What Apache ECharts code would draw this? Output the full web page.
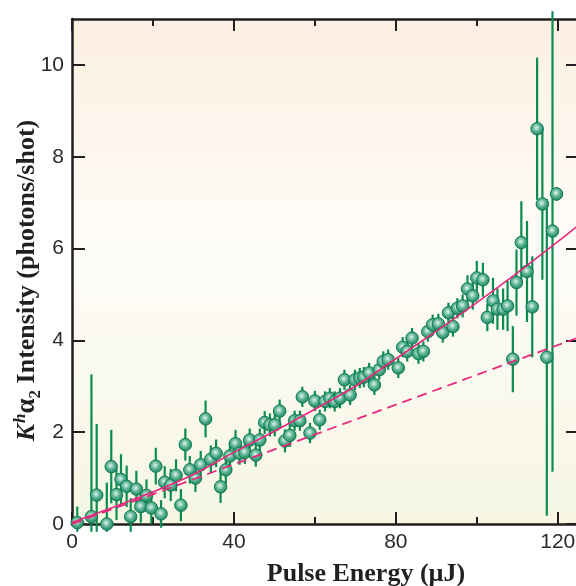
<!DOCTYPE html>
<html>
<head>
<meta charset="utf-8">
<script src="https://cdn.jsdelivr.net/npm/echarts@6/dist/echarts.min.js"></script>
<style>
html,body{margin:0;padding:0;background:#ffffff;}
#chart{width:576px;height:586px;}
</style>
</head>
<body>
<div id="chart"></div>
<script>
// Pulse energy (µJ)
var energy = [1.3,4.8,6.1,8.6,9.7,11.0,12.1,13.5,14.5,15.9,17.0,18.4,19.6,20.7,22.0,22.9,24.4,25.7,26.9,28.0,
  29.1,30.5,31.8,33.0,34.3,35.6,36.7,38.0,39.0,40.4,41.4,42.7,43.9,45.4,46.4,47.6,48.9,50.1,51.3,52.6,
  53.8,55.0,56.3,56.9,58.8,60.0,61.2,62.5,63.7,64.9,66.2,67.3,68.7,69.9,71.1,72.1,73.4,74.7,75.9,76.9,
  78.1,80.6,81.7,82.8,84.0,85.6,86.8,87.9,89.1,90.5,91.6,93.0,94.1,95.2,96.5,97.7,99.0,100.0,101.5,102.6,
  104.0,105.1,106.5,107.6,108.9,109.8,111.0,112.4,113.7,114.9,116.2,117.3,118.7,119.7];
// Intensity (photons/shot)
var intensity = [0.03,0.16,0.63,0.00,1.25,0.64,0.97,0.82,0.16,0.76,0.38,0.62,0.35,1.26,0.22,0.91,0.85,1.06,0.41,1.73,
  1.18,1.00,1.29,2.29,1.41,1.54,0.81,1.18,1.48,1.75,1.54,1.56,1.83,1.50,1.83,2.21,2.16,2.16,2.46,1.81,
  1.93,2.25,2.25,2.77,1.98,2.68,2.27,2.67,2.74,2.67,2.74,3.14,2.81,3.14,3.18,3.20,3.29,3.03,3.36,3.54,
  3.58,3.40,3.85,3.76,4.05,3.71,3.76,4.19,4.34,4.36,4.17,4.60,4.30,4.70,4.75,5.12,4.97,5.36,5.32,4.50,
  4.86,4.68,4.68,4.75,3.59,5.26,6.13,5.50,4.73,8.61,6.97,3.63,6.38,7.19];
// Error bar, lower half-length
var errLow = [0.35,3.10,1.55,0.90,0.80,0.55,0.55,0.45,0.40,0.40,0.35,0.35,0.35,0.40,0.30,0.35,0.35,0.35,0.35,0.35,
  0.30,0.30,0.30,0.40,0.30,0.30,0.35,0.30,0.30,0.30,0.25,0.25,0.25,0.25,0.25,0.25,0.25,0.25,0.25,0.25,
  0.25,0.22,0.22,0.22,0.22,0.22,0.22,0.22,0.22,0.22,0.22,0.22,0.22,0.22,0.22,0.22,0.22,0.22,0.22,0.22,
  0.22,0.22,0.22,0.22,0.22,0.22,0.22,0.22,0.22,0.22,0.22,0.22,0.22,0.22,0.25,0.30,0.30,0.37,0.37,0.30,
  0.50,0.45,0.45,0.55,0.72,0.72,0.90,1.10,1.10,1.55,1.65,3.45,5.24,0.15];
// Error bar, upper half-length
var errHigh = [0.35,3.10,1.55,0.90,0.80,0.55,0.55,0.45,0.40,0.40,0.35,0.35,0.35,0.40,0.30,0.35,0.35,0.35,0.35,0.35,
  0.30,0.30,0.30,0.40,0.30,0.30,0.35,0.30,0.30,0.30,0.25,0.25,0.25,0.25,0.25,0.25,0.25,0.25,0.25,0.25,
  0.25,0.22,0.22,0.22,0.22,0.22,0.22,0.22,0.22,0.22,0.22,0.22,0.22,0.22,0.22,0.22,0.22,0.22,0.22,0.22,
  0.22,0.22,0.22,0.22,0.22,0.22,0.22,0.22,0.22,0.22,0.22,0.22,0.22,0.22,0.25,0.30,0.30,0.37,0.37,0.30,
  0.50,0.45,0.45,0.55,0.72,0.72,0.90,1.10,1.10,1.55,1.65,3.45,4.79,0.15];
// Fit curves
var fitSolidX = [0,10,20,30,40,50,60,70,80,90,100,110,120,125];
var fitSolidY = [0.03,0.36,0.70,1.08,1.56,2.02,2.50,3.00,3.60,4.20,4.82,5.47,6.15,6.50];
var fitDashX = [0,125];
var fitDashY = [0,4.06];
// Tick values
var xMajorTicks = [0,40,80,120];
var xMinorTicks = [20,60,100];
var yTicks = [0,2,4,6,8,10];

var chart = echarts.init(document.getElementById('chart'), null, {renderer:'canvas'});

var pts = [], bars = [];
for (var i = 0; i < energy.length; i++) {
  pts.push([energy[i], intensity[i]]);
  bars.push([energy[i], intensity[i], errLow[i], errHigh[i]]);
}
var solid = fitSolidX.map(function(x, i){ return [x, fitSolidY[i]]; });
var dashed = fitDashX.map(function(x, i){ return [x, fitDashY[i]]; });

var axisColor = '#231f20';
var labelFont = 'Liberation Sans, Arial, sans-serif';
var serif = 'Liberation Serif, Times New Roman, serif';

function xAx(pos, ticks, len, showLine, showLabel, extra) {
  var o = {
    type:'value', position:pos, min:0, max:125, nameMoveOverlap:false,
    axisLine:{show:showLine, onZero:false, lineStyle:{color:axisColor, width:2.5}},
    axisTick:{show:true, inside:true, length:len, customValues:ticks, lineStyle:{color:axisColor, width:2}},
    axisLabel:{show:showLabel, customValues:ticks, margin:8, fontFamily:labelFont, fontSize:21, color:'#2b2b2b'},
    splitLine:{show:false}
  };
  if (extra) for (var k in extra) o[k] = extra[k];
  return o;
}

var option = {
  animation:false,
  backgroundColor:'#ffffff',
  grid:{
    left:72, right:-2, top:19, bottom:62, show:true, borderWidth:0,
    containLabel:false, outerBoundsMode:'none',
    backgroundColor:{type:'linear', x:0, y:0, x2:0, y2:1, colorStops:[
      {offset:0, color:'#fcefe1'},
      {offset:0.45, color:'#fefcf8'},
      {offset:1, color:'#f6f6e3'}
    ]}
  },
  xAxis:[
    xAx('bottom', xMajorTicks, 12, true, true, {
      name:'Pulse Energy (µJ)', nameLocation:'middle', nameGap:37,
      nameTextStyle:{fontFamily:serif, fontWeight:'bold', fontSize:26, color:axisColor, padding:[0,0,0,82]}
    }),
    xAx('bottom', xMinorTicks, 7, false, false),
    xAx('top', xMajorTicks, 12, true, false),
    xAx('top', xMinorTicks, 7, false, false)
  ],
  yAxis:[
    {
      type:'value', position:'left', min:0, max:11, nameMoveOverlap:false,
      axisLine:{show:true, onZero:false, lineStyle:{color:axisColor, width:2.5}},
      axisTick:{show:true, inside:true, length:13, customValues:yTicks, lineStyle:{color:axisColor, width:2}},
      axisLabel:{customValues:yTicks, margin:8, fontFamily:labelFont, fontSize:21, color:'#2b2b2b'},
      splitLine:{show:false},
      name:'{k|K}{h|h}{a|α}{s|2}{t| Intensity (photons/shot)}',
      nameLocation:'middle', nameRotate:90, nameGap:28,
      nameTextStyle:{
        fontFamily:serif, fontWeight:'bold', fontSize:26, color:axisColor, padding:[0,18,0,0],
        rich:{
          k:{fontFamily:serif, fontWeight:'bold', fontStyle:'italic', fontSize:26, color:axisColor, lineHeight:34, verticalAlign:'middle'},
          h:{fontFamily:serif, fontWeight:'bold', fontStyle:'italic', fontSize:17, color:axisColor, lineHeight:34, verticalAlign:'top', padding:[2,0,0,1]},
          a:{fontFamily:serif, fontWeight:'bold', fontSize:27, color:axisColor, lineHeight:34, verticalAlign:'middle'},
          s:{fontFamily:serif, fontWeight:'bold', fontSize:17, color:axisColor, lineHeight:34, verticalAlign:'bottom'},
          t:{fontFamily:serif, fontWeight:'bold', fontSize:26, color:axisColor, lineHeight:34, verticalAlign:'middle'}
        }
      }
    },
    {
      type:'value', position:'right', min:0, max:11,
      axisLine:{show:true, onZero:false, lineStyle:{color:axisColor, width:2.5}},
      axisTick:{show:true, inside:true, length:12, customValues:yTicks, lineStyle:{color:axisColor, width:2}},
      axisLabel:{show:false},
      splitLine:{show:false}
    }
  ],
  series:[
    {
      type:'custom', name:'errors', xAxisIndex:0, yAxisIndex:0, clip:false, z:2,
      data:bars, encode:{x:0, y:1},
      renderItem:function(params, api){
        var x = api.value(0), y = api.value(1), lo = api.value(2), hi = api.value(3);
        var p1 = api.coord([x, Math.max(y - lo, -0.17)]);
        var p2 = api.coord([x, y + hi]);
        return {type:'line', shape:{x1:p1[0], y1:p1[1], x2:p2[0], y2:p2[1]},
          style:{stroke:'#0a8c4e', lineWidth:2.2}};
      }
    },
    {
      type:'scatter', name:'data', xAxisIndex:0, yAxisIndex:0, clip:false, z:3,
      data:pts, symbol:'circle', symbolSize:12.5,
      itemStyle:{
        color:{type:'radial', x:0.45, y:0.42, r:0.62, colorStops:[
          {offset:0, color:'#e2f4ed'},
          {offset:0.45, color:'#5fb596'},
          {offset:1, color:'#0b7b52'}
        ]},
        borderColor:'#0a7a4f', borderWidth:1, opacity:1
      }
    },
    {
      type:'line', name:'fit', xAxisIndex:0, yAxisIndex:0, data:solid, smooth:0.3,
      symbol:'none', z:4, lineStyle:{color:'#e8287c', width:1.6}
    },
    {
      type:'line', name:'linear', xAxisIndex:0, yAxisIndex:0, data:dashed,
      symbol:'none', z:4, lineStyle:{color:'#e8287c', width:1.8, type:[10,6]}
    }
  ]
};
chart.setOption(option);
</script>
</body>
</html>
